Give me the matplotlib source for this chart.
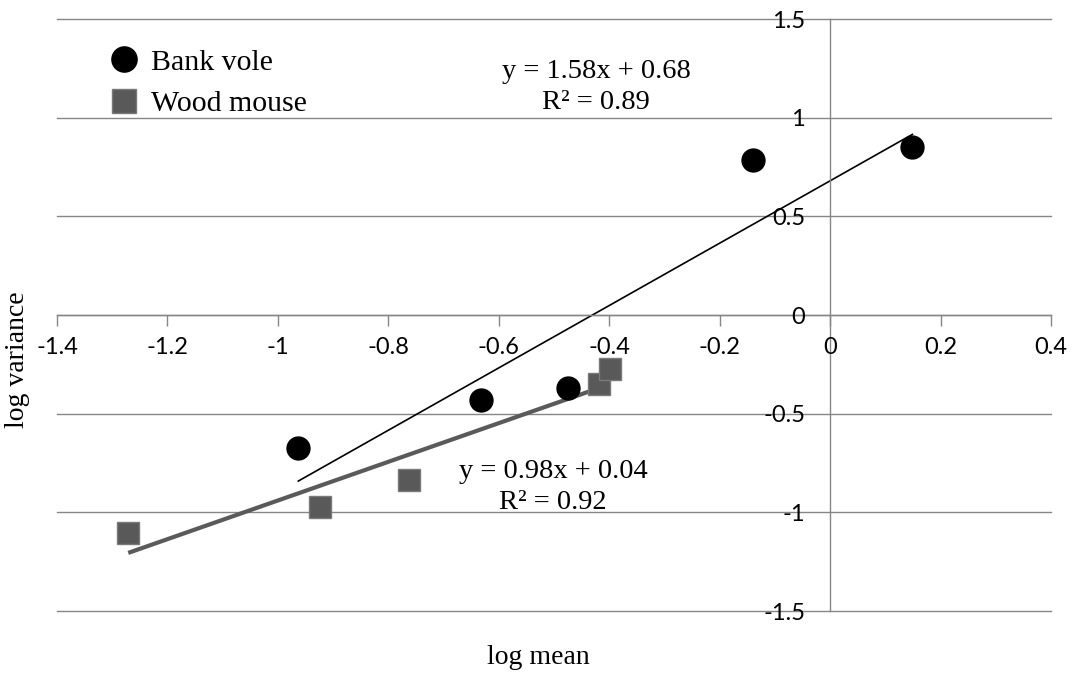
"""Taylor's power law: log variance against log mean for two rodent species."""

import matplotlib.pyplot as plt
import numpy as np

# Bank vole samples (log mean, log variance)
vole_log_mean = [-0.963, -0.633, -0.475, -0.140, 0.149]
vole_log_var = [-0.672, -0.433, -0.372, 0.783, 0.849]

# Wood mouse samples (log mean, log variance)
mouse_log_mean = [-1.271, -0.923, -0.762, -0.419, -0.399]
mouse_log_var = [-1.107, -0.971, -0.834, -0.352, -0.272]

# Fitted linear trends (slope, intercept, R^2)
vole_fit = (1.58, 0.68, 0.89)
mouse_fit = (0.98, 0.04, 0.92)

x_ticks = [-1.4, -1.2, -1.0, -0.8, -0.6, -0.4, -0.2, 0.0, 0.2, 0.4]
y_ticks = [-1.5, -1.0, -0.5, 0.0, 0.5, 1.0, 1.5]

GRID = "#868686"
SERIF = "Liberation Serif"
SANS = "Lato"


def fmt(v):
    return f"{v:g}"


fig = plt.figure(figsize=(10.76, 6.75), dpi=100)
ax = fig.add_axes([57 / 1076, 1 - 611 / 675, 994 / 1076, 592 / 675])
ax.set_xlim(-1.4, 0.4)
ax.set_ylim(-1.5, 1.5)

# horizontal gridlines sit beneath everything
for yv in y_ticks:
    ax.axhline(yv, color=GRID, linewidth=1.0, zorder=0.5, clip_on=False)

# axes cross at the origin
for side in ("top", "right"):
    ax.spines[side].set_visible(False)
ax.spines["bottom"].set_position(("data", 0))
ax.spines["left"].set_position(("data", 0))
for side in ("bottom", "left"):
    ax.spines[side].set_color(GRID)
    ax.spines[side].set_linewidth(1.0)

ax.set_xticks(x_ticks)
ax.set_xticklabels([fmt(v) for v in x_ticks], fontfamily=SANS, fontsize=17)
ax.set_yticks(y_ticks)
ax.set_yticklabels([fmt(v) for v in y_ticks], fontfamily=SANS, fontsize=17)
ax.tick_params(axis="x", direction="out", length=8, width=1.0, color=GRID, pad=8)
ax.tick_params(axis="y", length=0, pad=18)
ax.set_axisbelow(False)

# trend lines from the stated equations
xs = np.array([min(vole_log_mean), max(vole_log_mean)])
ax.plot(xs, vole_fit[0] * xs + vole_fit[1], color="black", linewidth=1.2, zorder=1.8)
xs = np.array([min(mouse_log_mean), max(mouse_log_mean)])
ax.plot(xs, mouse_fit[0] * xs + mouse_fit[1], color="#5a5a5a", linewidth=3.0,
        zorder=1.8, solid_capstyle="butt")

ax.plot(vole_log_mean, vole_log_var, "o", color="black", markersize=16.5,
        linestyle="none", label="Bank vole", zorder=2)
ax.plot(mouse_log_mean, mouse_log_var, "s", color="#595959", markeredgecolor="#7a7a7a",
        markeredgewidth=1.0, markersize=16, linestyle="none", label="Wood mouse", zorder=2)

ax.text(-0.424, 1.156, f"y = {vole_fit[0]:.2f}x + {vole_fit[1]:.2f}\nR² = {vole_fit[2]:.2f}",
        ha="center", va="center", fontfamily=SERIF, fontsize=20.5, linespacing=1.3)
ax.text(-0.502, -0.872, f"y = {mouse_fit[0]:.2f}x + {mouse_fit[1]:.2f}\nR² = {mouse_fit[2]:.2f}",
        ha="center", va="center", fontfamily=SERIF, fontsize=20.5, linespacing=1.3)

ax.legend(loc="upper left", bbox_to_anchor=(0.04, 0.97), frameon=False,
          prop={"family": SERIF, "size": 21.5}, handletextpad=0.4, labelspacing=0.5,
          handlelength=1.0, borderaxespad=0, markerscale=1.1)

fig.text(538 / 1076, 1 - 657 / 675, "log mean", ha="center", va="center",
         fontfamily=SERIF, fontsize=20)
fig.text(18 / 1076, 1 - 360 / 675, "log variance", ha="center", va="center",
         rotation=90, fontfamily=SERIF, fontsize=20)

fig.savefig("out.png", dpi=100)
